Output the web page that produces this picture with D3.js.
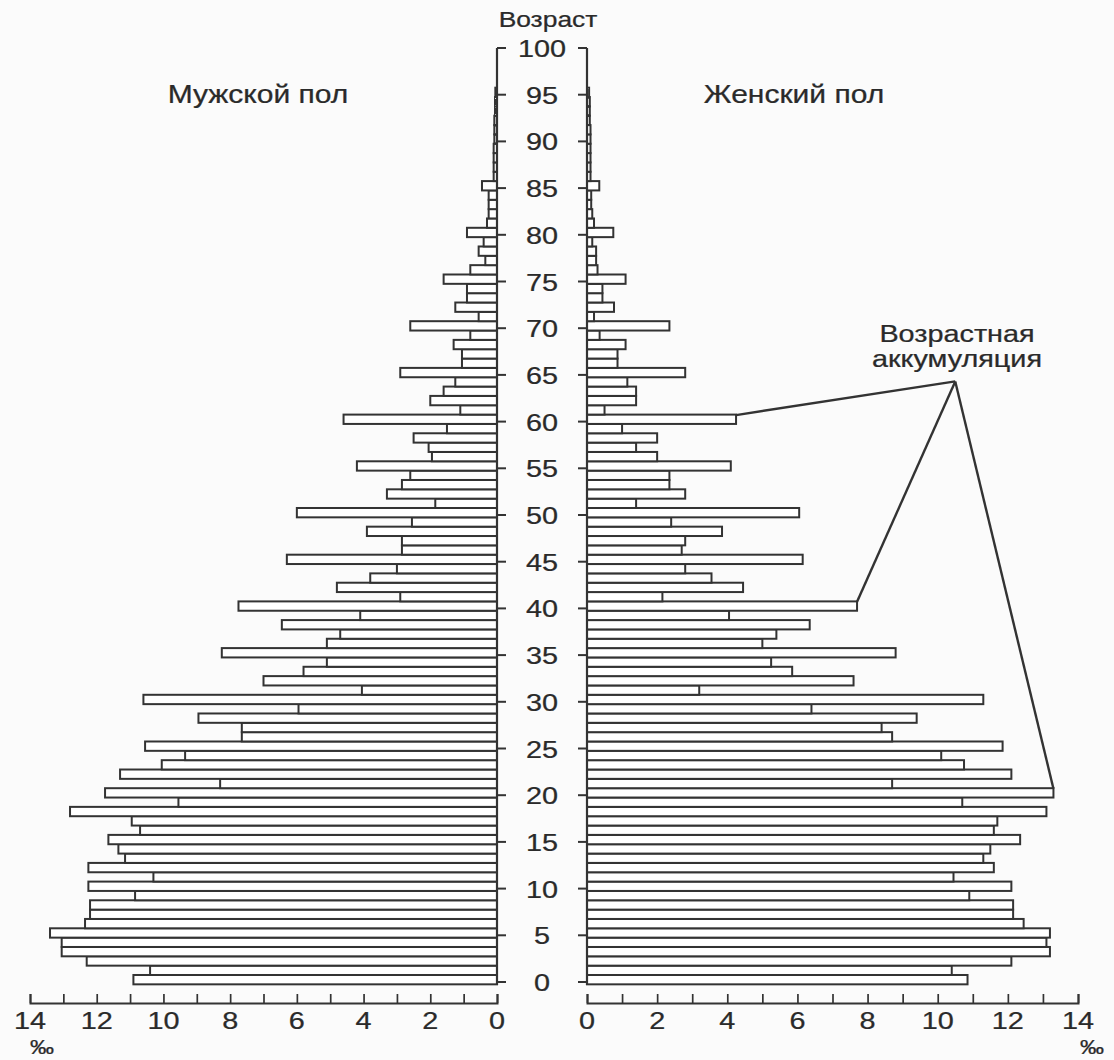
<!DOCTYPE html>
<html>
<head>
<meta charset="utf-8">
<script src="https://cdn.jsdelivr.net/npm/d3@7"></script>
<style>
  html, body { margin: 0; padding: 0; background: #fbfbfb; }
  svg { display: block; }
  text { font-family: "Liberation Sans", Arial, sans-serif; fill: #2a2a2a; stroke: #2a2a2a; stroke-width: 0.25; }
</style>
</head>
<body>
<svg id="chart" width="1114" height="1060"></svg>
<script>
// ---- data (per mille of population, by single year of age) ----
const ages = d3.range(0, 96);
const male = [
  10.9, 10.4, 12.3, 13.05, 13.05, 13.4, 12.35, 12.2, 12.2, 10.85,
  12.25, 10.3, 12.25, 11.15, 11.35, 11.65, 10.7, 10.95, 12.8, 9.55,
  11.75, 8.3, 11.3, 10.05, 9.35, 10.55, 7.65, 7.65, 8.95, 5.95,
  10.6, 4.05, 7.0, 5.8, 5.1, 8.25, 5.1, 4.7, 6.45, 4.1,
  7.75, 2.9, 4.8, 3.8, 3.0, 6.3, 2.85, 2.85, 3.9, 2.55,
  6.0, 1.85, 3.3, 2.85, 2.6, 4.2, 1.95, 2.05, 2.5, 1.5,
  4.6, 1.1, 2.0, 1.6, 1.25, 2.9, 1.05, 1.05, 1.3, 0.8,
  2.6, 0.55, 1.25, 0.9, 0.9, 1.6, 0.8, 0.35, 0.55, 0.4,
  0.9, 0.3, 0.25, 0.25, 0.25, 0.45, 0.1, 0.1, 0.1, 0.1,
  0.08, 0.08, 0.08, 0.06, 0.06, 0.05
];
const female = [
  10.85, 10.4, 12.1, 13.2, 13.1, 13.2, 12.45, 12.15, 12.15, 10.9,
  12.1, 10.45, 11.6, 11.3, 11.5, 12.35, 11.6, 11.7, 13.1, 10.7,
  13.3, 8.7, 12.1, 10.75, 10.1, 11.85, 8.7, 8.4, 9.4, 6.4,
  11.3, 3.2, 7.6, 5.85, 5.25, 8.8, 5.0, 5.4, 6.35, 4.05,
  7.7, 2.15, 4.45, 3.55, 2.8, 6.15, 2.7, 2.8, 3.85, 2.4,
  6.05, 1.4, 2.8, 2.35, 2.35, 4.1, 2.0, 1.4, 2.0, 1.0,
  4.25, 0.5, 1.4, 1.4, 1.15, 2.8, 0.87, 0.87, 1.1, 0.36,
  2.35, 0.2, 0.77, 0.44, 0.44, 1.1, 0.3, 0.26, 0.26, 0.15,
  0.75, 0.2, 0.15, 0.12, 0.12, 0.35, 0.1, 0.1, 0.1, 0.1,
  0.1, 0.1, 0.08, 0.08, 0.08, 0.06
];
const ageTicks = d3.range(0, 101, 5);
const valueTicks = d3.range(0, 15, 1);
const valueLabels = d3.range(0, 15, 2);
const accumulationAges = [60, 40, 20];
const accumulationAnchor = { value: 10.5, age: 64.3 };
const titles = { left: "Мужской пол", right: "Женский пол", axis: "Возраст", unit: "‰" };
const annotation = ["Возрастная", "аккумуляция"];

// ---- scales ----
const ink = "#333";
const stretch = 1.2;
const svg = d3.select("#chart");
const y = d3.scaleLinear().domain([0, 100]).range([982, 48]);
const xM = d3.scaleLinear().domain([0, 14]).range([497, 30]);
const xF = d3.scaleLinear().domain([0, 14]).range([587, 1078]);
const barTop = a => y(a + 0.75);
const barH = y(0) - y(1);
const place = (x, yy) => `translate(${x},${yy}) scale(${stretch},1)`;

// ---- bars ----
const g = svg.append("g");
g.selectAll("rect.m").data(ages).join("rect")
  .attr("x", a => xM(male[a]))
  .attr("y", a => barTop(a))
  .attr("width", a => xM(0) - xM(male[a]))
  .attr("height", barH)
  .attr("fill", "#fff").attr("stroke", ink).attr("stroke-width", 2);
g.selectAll("rect.f").data(ages).join("rect")
  .attr("x", xF(0))
  .attr("y", a => barTop(a))
  .attr("width", a => xF(female[a]) - xF(0))
  .attr("height", barH)
  .attr("fill", "#fff").attr("stroke", ink).attr("stroke-width", 2);

// ---- central age axis (two vertical lines with ticks) ----
const ax = svg.append("g");
ax.append("line").attr("x1", xM(0)).attr("x2", xM(0)).attr("y1", y(0) + 3).attr("y2", y(100))
  .attr("stroke", ink).attr("stroke-width", 2.2);
ax.append("line").attr("x1", xF(0)).attr("x2", xF(0)).attr("y1", y(0) + 3).attr("y2", y(100))
  .attr("stroke", ink).attr("stroke-width", 2.2);
ax.selectAll("line.tl").data(ageTicks).join("line")
  .attr("x1", xM(0)).attr("x2", xM(0) + 9).attr("y1", d => y(d)).attr("y2", d => y(d))
  .attr("stroke", ink).attr("stroke-width", 2);
ax.selectAll("line.tr").data(ageTicks).join("line")
  .attr("x1", xF(0) - 9).attr("x2", xF(0)).attr("y1", d => y(d)).attr("y2", d => y(d))
  .attr("stroke", ink).attr("stroke-width", 2);
const midX = (xM(0) + xF(0)) / 2;
ax.selectAll("text.age").data(ageTicks).join("text")
  .attr("transform", d => place(midX, y(d) + 9))
  .attr("text-anchor", "middle").attr("font-size", 24)
  .text(d => d);

// ---- bottom value axes ----
const bottomY = 1003;
const axL = d3.axisBottom(xM).tickValues(valueTicks).tickSize(-9).tickFormat("");
const axR = d3.axisBottom(xF).tickValues(valueTicks).tickSize(-9).tickFormat("");
[axL, axR].forEach(a => {
  const gg = svg.append("g").attr("transform", `translate(0,${bottomY})`).call(a);
  gg.select(".domain").attr("stroke", ink).attr("stroke-width", 2);
  gg.selectAll(".tick line").attr("stroke", ink).attr("stroke-width", 1.7);
});
svg.selectAll("text.lv").data(valueLabels).join("text")
  .attr("transform", d => place(xM(d), 1029)).attr("text-anchor", "middle").attr("font-size", 24)
  .text(d => d);
svg.selectAll("text.rv").data(valueLabels).join("text")
  .attr("transform", d => place(xF(d), 1029)).attr("text-anchor", "middle").attr("font-size", 24)
  .text(d => d);
svg.append("text").attr("transform", place(xM(14) + 12, 1054)).attr("text-anchor", "middle")
  .attr("font-size", 20).text(titles.unit);
svg.append("text").attr("transform", place(xF(14) + 14, 1054)).attr("text-anchor", "middle")
  .attr("font-size", 20).text(titles.unit);

// ---- titles ----
svg.append("text").attr("transform", place(midX + 6, 27)).attr("text-anchor", "middle")
  .attr("font-size", 22).text(titles.axis);
svg.append("text").attr("transform", place(258, 103)).attr("text-anchor", "middle")
  .attr("font-size", 25).text(titles.left);
svg.append("text").attr("transform", place(794, 103)).attr("text-anchor", "middle")
  .attr("font-size", 25).text(titles.right);

// ---- annotation ----
const ancX = xF(accumulationAnchor.value), ancY = y(accumulationAnchor.age);
svg.selectAll("text.ann").data(annotation).join("text")
  .attr("transform", (d, i) => place(957, 342 + i * 25)).attr("text-anchor", "middle")
  .attr("font-size", 24).text(d => d);
svg.selectAll("line.ann").data(accumulationAges).join("line")
  .attr("x1", ancX).attr("y1", ancY)
  .attr("x2", a => xF(female[a])).attr("y2", a => y(a + 0.7))
  .attr("stroke", ink).attr("stroke-width", 2.4);
</script>
</body>
</html>
